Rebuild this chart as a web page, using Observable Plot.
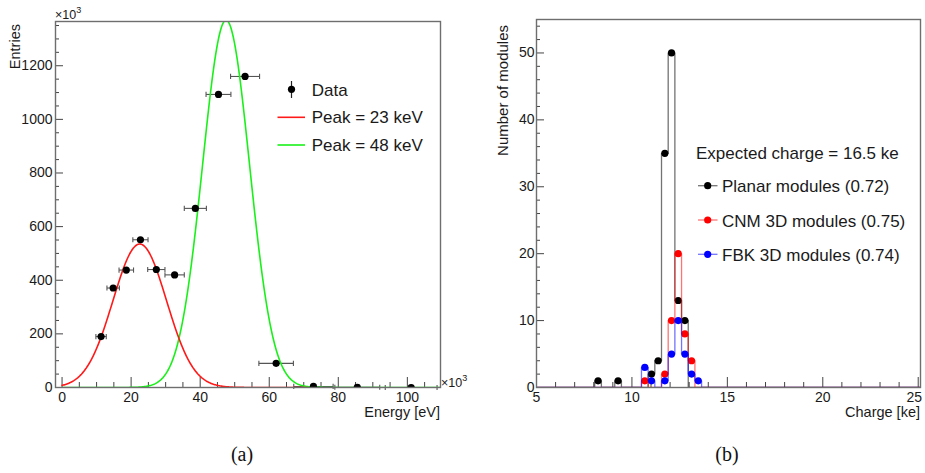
<!DOCTYPE html>
<html><head><meta charset="utf-8">
<script src="https://cdn.jsdelivr.net/npm/d3@7"></script>
<script src="https://cdn.jsdelivr.net/npm/@observablehq/plot@0.6"></script>
<style>
body{margin:0;background:#fff;font-family:"Liberation Sans",Arial,sans-serif;}
#wrap{position:relative;width:925px;height:473px;overflow:hidden;background:#fff;}
.panel{position:absolute;top:0;}
.panel svg{overflow:visible;background:transparent;}
.cap{position:absolute;top:443px;width:60px;text-align:center;font-family:"Liberation Serif","DejaVu Serif",serif;font-size:20px;color:#111;}
</style></head>
<body><div id="wrap"><div id="pb" class="panel" style="left:462px"></div><div id="pa" class="panel" style="left:0"></div>
<div class="cap" style="left:212px">(a)</div><div class="cap" style="left:697px">(b)</div></div>
<script>
// ---------- Panel (a) data ----------
const energy    = [11.3, 14.8, 18.6, 22.7, 27.3, 32.6, 38.6, 45.3, 53.0, 62.0, 72.8, 85.5, 101.1];
const entries   = [190, 371, 438, 551, 440, 420, 668, 1093, 1160, 90, 4, 1, 0];
const energyErr = [1.5, 1.8, 2.1, 2.2, 2.5, 2.8, 3.2, 3.6, 4.2, 5.0, 5.7, 6.5, 7.5];
const peakLabels = ["Peak = 23 keV", "Peak = 48 keV"];
const peakAmp    = [535, 1370];
const peakMean   = [22.5, 47.5];
const peakSigma  = [7.75, 6.8];
const peakFrom   = [0, 0];
const peakTo     = [71, 110];
const peakColors = ["#ff1a1a", "#19f019"];
const energyTicks  = [0, 20, 40, 60, 80, 100];
const entriesTicks = [0, 200, 400, 600, 800, 1000, 1200];

// ---------- Panel (b) data ----------
const binWidth = 0.35;
const seriesNames = ["Planar modules (0.72)", "CNM 3D modules (0.75)", "FBK 3D modules (0.74)"];
const seriesColors = ["#000000", "#ff0000", "#0000ff"];
const planarBins   = [8.225, 9.275, 11.025, 11.375, 11.725, 12.075, 12.425, 12.775];
const planarCounts = [1, 1, 2, 4, 35, 50, 13, 10];
const cnmBins      = [10.675, 11.725, 12.075, 12.425, 12.775, 13.125];
const cnmCounts    = [1, 2, 10, 20, 8, 4];
const fbkBins      = [10.675, 11.025, 11.725, 12.075, 12.425, 12.775, 13.125, 13.475];
const fbkCounts    = [3, 1, 1, 5, 10, 5, 2, 1];
const chargeTicks  = [5, 10, 15, 20, 25];
const moduleTicks  = [0, 10, 20, 30, 40, 50];
const expectedText = "Expected charge = 16.5 ke";

const FONT = "Liberation Sans, Arial, sans-serif";
const FRAME = "#6e6e6e";

// ---------- helpers ----------
const vline = {draw(ctx, size){const r=Math.sqrt(size/Math.PI); ctx.moveTo(0,-r); ctx.lineTo(0,r);}};
function range(a,b,s){const o=[];for(let v=a;v<=b+1e-9;v+=s)o.push(+v.toFixed(6));return o;}
function txt(svg,x,y,s,o={}){
  const t=d3.select(svg).append("text").attr("x",x).attr("y",y).attr("font-family",FONT)
    .attr("font-size",o.size||14).attr("fill",o.fill||"#1a1a1a").attr("text-anchor",o.anchor||"start").text(s);
  if(o.rotate) t.attr("transform",`rotate(-90 ${x} ${y})`);
  return t;
}
function sup(t,s,size){t.append("tspan").attr("dy",-6).attr("font-size",size).text(s);}
const fmt = d => String(d);

// ---------- Panel (a) ----------
const pts = energy.map((x,i)=>({x, y:entries[i], ex:energyErr[i]}));
const curves = peakLabels.map((lab,k)=>{
  const arr=[];
  for(let x=peakFrom[k]; x<=peakTo[k]+1e-9; x+=0.2)
    arr.push({x, y:peakAmp[k]*Math.exp(-((x-peakMean[k])**2)/(2*peakSigma[k]**2)), k});
  return arr;
});
{
  const W=462,H=430,mL=55,mR=22,mT=21,mB=43;
  const iw=W-mL-mR, ih=H-mT-mB;
  const xMinor=range(0,105,5).filter(v=>v%20!==0);
  const xMajor=energyTicks;
  const yMinor=range(0,1350,50).filter(v=>v%200!==0);
  const svg = Plot.plot({
    width:W, height:H, marginLeft:mL, marginRight:mR, marginTop:mT, marginBottom:mB,
    style:{fontFamily:FONT, fontSize:"14px", color:"#1a1a1a", background:"transparent", overflow:"visible"},
    x:{domain:[-1.9,109.6]}, y:{domain:[0,1365]},
    marks:[
      Plot.ruleX(xMinor,{x:d=>d, insetTop:ih-5, stroke:"#444", strokeWidth:1}),
      Plot.ruleX(xMajor,{x:d=>d, insetTop:ih-10, stroke:"#444", strokeWidth:1}),
      Plot.ruleY(yMinor,{y:d=>d, insetRight:iw-4, stroke:"#444", strokeWidth:1}),
      Plot.ruleY(entriesTicks,{y:d=>d, insetRight:iw-8, stroke:"#444", strokeWidth:1}),
      Plot.axisX({ticks:xMajor, tickSize:0, tickPadding:5, label:null, fontSize:14, tickFormat:fmt}),
      Plot.axisY({ticks:entriesTicks, tickSize:0, tickPadding:3, label:null, fontSize:14, tickFormat:fmt}),
      Plot.link(pts,{x1:d=>d.x-d.ex, x2:d=>d.x+d.ex, y1:"y", y2:"y", stroke:"#555", strokeWidth:1.1}),
      Plot.dot(pts,{x:d=>d.x-d.ex, y:"y", symbol:vline, r:2.6, stroke:"#555", strokeWidth:1.1}),
      Plot.dot(pts,{x:d=>d.x+d.ex, y:"y", symbol:vline, r:2.6, stroke:"#555", strokeWidth:1.1}),
      Plot.line(curves[1],{x:"x", y:"y", stroke:peakColors[1], strokeWidth:1.6, clip:true}),
      Plot.line(curves[0],{x:"x", y:"y", stroke:peakColors[0], strokeWidth:1.6, clip:true}),
      Plot.dot(pts,{x:"x", y:"y", r:3.6, fill:"black", clip:true}),
      Plot.frame({stroke:FRAME, strokeWidth:1.4})
    ]
  });
  document.getElementById("pa").appendChild(svg);
  const s=d3.select(svg);
  txt(svg,19.5,24,"Entries",{size:14.5,anchor:"end",rotate:true});
  txt(svg,440,417,"Energy [eV]",{size:14.5,anchor:"end"});
  sup(txt(svg,55,18.5,"×10",{size:12.5}),"3",9);
  sup(txt(svg,441,387,"×10",{size:12.5}),"3",9);
  // legend
  s.append("line").attr("x1",291.5).attr("x2",291.5).attr("y1",81).attr("y2",98).attr("stroke","#222").attr("stroke-width",1.2);
  s.append("circle").attr("cx",291.5).attr("cy",89.3).attr("r",3.6).attr("fill","black");
  txt(svg,311.7,95.5,"Data",{size:17});
  [117.3,145].forEach((yy,k)=>{
    s.append("line").attr("x1",277.5).attr("x2",305).attr("y1",yy).attr("y2",yy).attr("stroke",peakColors[k]).attr("stroke-width",1.6);
    txt(svg,311.7,yy+6,peakLabels[k],{size:17});
  });
}

// ---------- Panel (b) ----------
function histSteps(bins, counts){
  const out=[]; const n=58, k0=14;
  let last=0;
  for(let i=0;i<n;i++){
    const left=(k0+i)*binWidth, c=left+binWidth/2;
    const j=bins.findIndex(b=>Math.abs(b-c)<0.01);
    last = j>=0 ? counts[j] : 0;
    out.push({x:left, y:last});
  }
  out.push({x:(k0+n)*binWidth, y:last});
  return out;
}
{
  const W=463,H=430,mL=74,mR=5,mT=19,mB=43;
  const iw=W-mL-mR, ih=H-mT-mB;
  const xMinor=range(5,25,1).filter(v=>v%5!==0);
  const yMinor=range(0,54,2).filter(v=>v%10!==0);
  const series=[[planarBins,planarCounts],[cnmBins,cnmCounts],[fbkBins,fbkCounts]];
  const marks=[
    Plot.ruleX(xMinor,{x:d=>d, insetTop:ih-5, stroke:"#444", strokeWidth:1}),
    Plot.ruleX(chargeTicks,{x:d=>d, insetTop:ih-10, stroke:"#444", strokeWidth:1}),
    Plot.ruleY(yMinor,{y:d=>d, insetRight:iw-4, stroke:"#444", strokeWidth:1}),
    Plot.ruleY(moduleTicks,{y:d=>d, insetRight:iw-8, stroke:"#444", strokeWidth:1}),
    Plot.axisX({ticks:chargeTicks.slice(0,-1), tickSize:0, tickPadding:5, label:null, fontSize:14, tickFormat:fmt}),
    Plot.axisX({ticks:chargeTicks.slice(-1), tickSize:0, tickPadding:5, label:null, fontSize:14, tickFormat:fmt, dx:-4}),
    Plot.axisY({ticks:moduleTicks, tickSize:0, tickPadding:2, label:null, fontSize:14, tickFormat:fmt})
  ];
  series.forEach(([b,c],k)=>{
    marks.push(Plot.line(histSteps(b,c),{x:"x", y:"y", curve:"step-after", stroke:seriesColors[k], strokeOpacity:0.55, strokeWidth:1.3, clip:true}));
    marks.push(Plot.dot(b.map((x,i)=>({x,y:c[i]})),{x:"x", y:"y", r:3.6, fill:seriesColors[k]}));
  });
  marks.push(Plot.frame({stroke:FRAME, strokeWidth:1.4}));
  const svg = Plot.plot({
    width:W, height:H, marginLeft:mL, marginRight:mR, marginTop:mT, marginBottom:mB,
    style:{fontFamily:FONT, fontSize:"14px", color:"#1a1a1a", background:"transparent"},
    x:{domain:[5,25.12]}, y:{domain:[0,55]},
    marks
  });
  document.getElementById("pb").appendChild(svg);
  const s=d3.select(svg), ox=462;
  txt(svg,508-ox,25,"Number of modules",{size:15,anchor:"end",rotate:true});
  txt(svg,920-ox,417,"Charge [ke]",{size:14.5,anchor:"end"});
  txt(svg,696-ox,159.2,expectedText,{size:17});
  [185.7,220,254.3].forEach((yy,k)=>{
    s.append("line").attr("x1",698-ox).attr("x2",717.5-ox).attr("y1",yy).attr("y2",yy).attr("stroke",seriesColors[k]).attr("stroke-opacity",0.55).attr("stroke-width",1.3);
    s.append("circle").attr("cx",707.7-ox).attr("cy",yy).attr("r",3.6).attr("fill",seriesColors[k]);
    txt(svg,722-ox,yy+6.6,seriesNames[k],{size:17});
  });
}
</script></body></html>
